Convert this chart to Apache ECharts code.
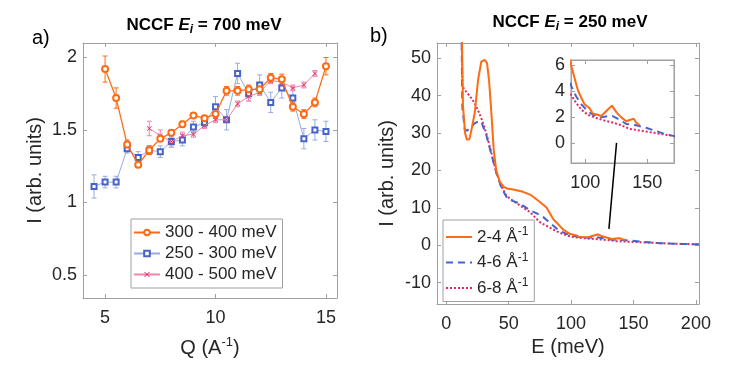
<!DOCTYPE html>
<html>
<head>
<meta charset="utf-8">
<script src="https://cdn.jsdelivr.net/npm/echarts@6.0.0/dist/echarts.min.js"></script>
<style>
html,body{margin:0;padding:0;background:#fff;}
#main{width:739px;height:374px;}
</style>
</head>
<body>
<div id="main"></div>
<script>
// panel a) : Q cuts
var qOrange = [5,5.5,6,6.5,7,7.5,8,8.5,9,9.5,10,10.5,11,11.5,12,12.5,13,13.5,14,14.5,15];
var iOrange = [1.92,1.72,1.40,1.26,1.36,1.44,1.48,1.54,1.60,1.58,1.61,1.77,1.77,1.78,1.78,1.86,1.85,1.66,1.61,1.69,1.94];
var eOrange = [0.09,0.07,0.03,0.02,0.03,0.02,0.02,0.02,0.02,0.02,0.03,0.03,0.03,0.03,0.03,0.03,0.035,0.03,0.03,0.03,0.06];

var qBlue = [4.5,5,5.5,6,6.5,7,7.5,8,8.5,9,9.5,10,10.5,11,11.5,12,12.5,13,13.5,14,14.5,15];
var iBlue = [1.11,1.14,1.14,1.37,1.31,1.36,1.35,1.42,1.43,1.52,1.55,1.66,1.57,1.89,1.75,1.81,1.69,1.79,1.72,1.44,1.50,1.49];
var eBlue = [0.08,0.04,0.04,0.03,0.04,0.03,0.04,0.04,0.04,0.04,0.03,0.07,0.07,0.07,0.05,0.07,0.07,0.07,0.07,0.07,0.07,0.07];

var qRed = [7,7.5,8,8.5,9,9.5,10,10.5,11,11.5,12,12.5,13,13.5,14,14.5];
var iRed = [1.51,1.46,1.42,1.46,1.47,1.53,1.57,1.57,1.68,1.73,1.76,1.84,1.83,1.79,1.81,1.89];
var eRed = [0.05,0.04,0.03,0.025,0.02,0.02,0.02,0.02,0.02,0.03,0.02,0.02,0.02,0.02,0.02,0.02];

var namesA = ['300 - 400 meV','250 - 300 meV','400 - 500 meV'];

// panel b) : energy cuts
var E24 = [11.8,13.3,15,16.5,18.5,20.5,22.7,25.4,28,30.7,32.6,34.2,36.1,38,40,42.8,46,48.5,53.5,61.5,68,75,80.3,85.6,88.7,91.4,94,96.8,99.4,103.5,106,110,112.9,115.6,118.2,121.5,125,129,133,135.7,139,141,143.8];
var I24 = [70,37.5,30,28.2,28.4,31.5,35.3,44.2,49.1,49.6,48.7,44.2,35.3,25.4,20,17,15.6,15.2,14.9,14.3,13.4,11.6,10.1,7.0,5.95,5.0,4.1,3.5,3.0,2.7,2.3,2.2,2.1,2.35,2.6,2.9,2.4,2.0,1.7,1.8,1.9,1.6,1.4];

var E46 = [11.8,12.8,14.7,16.5,18.7,22.7,26,28,32,36,40,44,48.2,52,58.8,66.9,72,77.5,83,88.7,92.7,96.8,100.8,106,113,118,122,126,133,141,149,157,165,172,180,190,202.5];
var I46 = [70,37,31,30.6,31.3,32.6,33.2,33,29.5,24.5,19.5,15.5,12.9,12.0,11.2,9.4,8.6,7.6,6.0,4.4,3.6,3.0,2.6,2.2,2.0,2.1,2.1,1.9,1.5,1.4,1.2,0.95,0.7,0.56,0.45,0.35,0.25];

var E68 = [11.8,12.8,16,19,22.7,25.5,28,32,36,40,44,48,50.8,58.8,66.9,74.9,82.9,88.7,92.7,96.8,102,108.9,115.6,122,129,136,144,151.8,160,172,180,190,202.5];
var I68 = [70,42.5,41,39.8,38,36,34,30,24.8,19.5,15.8,13.3,12.5,10.7,8.9,6.2,4.7,3.7,3.1,2.6,2.2,1.95,1.75,1.6,1.4,1.1,1.0,0.87,0.74,0.56,0.45,0.35,0.25];

var namesB = ['2-4','4-6','6-8'];
var arrowPts = [[130.3,4.4],[136.4,27.4]];

var cOrange = '#ff6a13', cBlue = '#4763c9', cBlueLine = '#9aaae0', cRed = '#e6245f', cRedLine = '#ef86a8';
var cAxis = '#a0a0a0', cText = '#262626';
var FONT = 'Liberation Sans';

function pairs(x, y){
    var out = [];
    for (var i = 0; i < x.length; i++) out.push([x[i], y[i]]);
    return out;
}
function bars(x, y, e){
    var out = [];
    for (var i = 0; i < x.length; i++) out.push([x[i], y[i]-e[i], y[i]+e[i]]);
    return out;
}

function errSeries(data, color){
    return {
        type: 'custom',
        xAxisIndex: 0, yAxisIndex: 0,
        data: data,
        encode: {x: 0, y: [1, 2]},
        silent: true,
        z: 1,
        renderItem: function(params, api){
            var x = api.value(0);
            var p1 = api.coord([x, api.value(2)]);
            var p2 = api.coord([x, api.value(1)]);
            var w = 2.5;
            var st = {stroke: color, lineWidth: 1};
            return {type: 'group', children: [
                {type: 'line', shape: {x1: p1[0], y1: p1[1], x2: p2[0], y2: p2[1]}, style: st},
                {type: 'line', shape: {x1: p1[0]-w, y1: p1[1], x2: p1[0]+w, y2: p1[1]}, style: st},
                {type: 'line', shape: {x1: p2[0]-w, y1: p2[1], x2: p2[0]+w, y2: p2[1]}, style: st}
            ]};
        }
    };
}

function xAx(grid, min, max, ticks, top, nameCfg){
    var a = {
        type: 'value', gridIndex: grid, min: min, max: max,
        position: top ? 'top' : 'bottom',
        splitLine: {show: false},
        axisLine: {show: true, onZero: false, lineStyle: {color: cAxis, width: 1}},
        axisTick: {show: true, inside: true, length: 4, customValues: ticks, lineStyle: {color: cAxis}},
        axisLabel: {show: !top, customValues: ticks, margin: 11, fontSize: 18, color: cText, fontFamily: FONT}
    };
    if (nameCfg) {
        a.name = nameCfg.name; a.nameLocation = 'middle'; a.nameGap = nameCfg.gap;
        a.nameTextStyle = {fontSize: 20, color: cText, fontFamily: FONT, rich: nameCfg.rich};
    }
    return a;
}
function yAx(grid, min, max, ticks, right, nameCfg){
    var a = {
        type: 'value', gridIndex: grid, min: min, max: max,
        position: right ? 'right' : 'left',
        splitLine: {show: false},
        axisLine: {show: true, onZero: false, lineStyle: {color: cAxis, width: 1}},
        axisTick: {show: true, inside: true, length: 4, customValues: ticks, lineStyle: {color: cAxis}},
        axisLabel: {show: !right, customValues: ticks, margin: 6, fontSize: 18, color: cText, fontFamily: FONT}
    };
    if (nameCfg) {
        a.name = nameCfg.name; a.nameLocation = 'middle'; a.nameGap = nameCfg.gap;
        a.nameTextStyle = {fontSize: 20, color: cText, fontFamily: FONT};
    }
    return a;
}

var supRich = {
    n: {fontSize: 20, color: cText, fontFamily: FONT, lineHeight: 24},
    s: {fontSize: 13, color: cText, fontFamily: FONT, lineHeight: 13, verticalAlign: 'top'}
};

var crossPath = 'path://M0,1L1,0L5,4L9,0L10,1L6,5L10,9L9,10L5,6L1,10L0,9L4,5Z';

var titleRich = {
    b: {fontSize: 17, fontWeight: 'bold', fill: '#000', fontFamily: FONT, lineHeight: 22},
    e: {fontSize: 17, fontWeight: 'bold', fontStyle: 'italic', fill: '#000', fontFamily: FONT, lineHeight: 22},
    i: {fontSize: 12, fontWeight: 'bold', fontStyle: 'italic', fill: '#000', fontFamily: FONT, lineHeight: 14, verticalAlign: 'bottom'}
};

var myChart = echarts.init(document.getElementById('main'), null, {renderer: 'canvas'});
var option = {
    animation: false,
    backgroundColor: '#fff',
    textStyle: {fontFamily: FONT},
    grid: [
        {left: 83, top: 43, width: 254, height: 255},
        {left: 437, top: 43, width: 262, height: 261},
        {left: 571, top: 60, width: 103, height: 103, show: true, borderColor: cAxis, borderWidth: 1, backgroundColor: 'transparent'}
    ],
    xAxis: [
        xAx(0, 4, 15.5, [5,10,15], false, {name: '{n|Q (A}{s|-1}{n|)}', gap: 38, rich: supRich}),
        xAx(0, 4, 15.5, [5,10,15], true),
        xAx(1, -7.5, 202.5, [0,50,100,150,200], false, {name: 'E (meV)', gap: 33}),
        xAx(1, -7.5, 202.5, [0,50,100,150,200], true),
        xAx(2, 88.5, 171.5, [100,150], false),
        xAx(2, 88.5, 171.5, [100,150], true)
    ],
    yAxis: [
        yAx(0, 0.34, 2.1, [0.5,1,1.5,2], false, {name: 'I (arb. units)', gap: 38}),
        yAx(0, 0.34, 2.1, [0.5,1,1.5,2], true),
        yAx(1, -15.7, 54.1, [-10,0,10,20,30,40,50], false, {name: 'I (arb. units)', gap: 40}),
        yAx(1, -15.7, 54.1, [-10,0,10,20,30,40,50], true),
        yAx(2, -1.5, 6.4, [0,2,4,6], false),
        yAx(2, -1.5, 6.4, [0,2,4,6], true)
    ],
    legend: [
        {
            data: namesA, orient: 'vertical', left: 131, top: 219,
            padding: [5, 6, 5, 2], itemGap: 4, itemWidth: 26, itemHeight: 7,
            borderColor: '#a0a0a0', borderWidth: 1, backgroundColor: '#fff',
            textStyle: {fontSize: 17, color: cText, fontFamily: FONT}
        },
        {
            data: namesB, orient: 'vertical', left: 443, top: 220,
            padding: [6, 6, 5, 2], itemGap: 6, itemWidth: 26, itemHeight: 10,
            borderColor: '#a0a0a0', borderWidth: 1, backgroundColor: '#fff',
            itemStyle: {opacity: 0},
            formatter: function(name){ return '{n|' + name + ' Å}{s|-1}'; },
            textStyle: {
                color: cText, fontFamily: FONT,
                rich: {
                    n: {fontSize: 17, color: cText, fontFamily: FONT, lineHeight: 22},
                    s: {fontSize: 12, color: cText, fontFamily: FONT, lineHeight: 12, verticalAlign: 'top'}
                }
            }
        }
    ],
    graphic: [
        {type: 'text', x: 204, y: 25, style: {
            text: '{b|NCCF }{e|E}{i|i}{b| = 700 meV}', align: 'center', verticalAlign: 'middle',
            textAlign: 'center', textVerticalAlign: 'middle', rich: titleRich
        }},
        {type: 'text', x: 570, y: 22, style: {
            text: '{b|NCCF }{e|E}{i|i}{b| = 250 meV}', align: 'center', verticalAlign: 'middle',
            textAlign: 'center', textVerticalAlign: 'middle', rich: titleRich
        }},
        {type: 'text', x: 32, y: 38, style: {text: 'a)', font: '20px "Liberation Sans"', fill: '#000', verticalAlign: 'middle', textVerticalAlign: 'middle'}},
        {type: 'text', x: 370, y: 36, style: {text: 'b)', font: '20px "Liberation Sans"', fill: '#000', verticalAlign: 'middle', textVerticalAlign: 'middle'}}
    ],
    series: [
        errSeries(bars(qBlue, iBlue, eBlue), cBlueLine),
        errSeries(bars(qRed, iRed, eRed), cRedLine),
        errSeries(bars(qOrange, iOrange, eOrange), cOrange),
        {
            name: namesA[1], type: 'line', xAxisIndex: 0, yAxisIndex: 0,
            data: pairs(qBlue, iBlue), symbol: 'emptyRect', symbolSize: 5, z: 2,
            lineStyle: {color: cBlueLine, width: 1},
            itemStyle: {color: cBlue, borderColor: cBlue, borderWidth: 1}
        },
        {
            name: namesA[2], type: 'line', xAxisIndex: 0, yAxisIndex: 0,
            data: pairs(qRed, iRed), symbol: crossPath, symbolSize: 5, z: 3,
            lineStyle: {color: cRedLine, width: 1},
            itemStyle: {color: cRed}
        },
        {
            name: namesA[0], type: 'line', xAxisIndex: 0, yAxisIndex: 0,
            data: pairs(qOrange, iOrange), symbol: 'emptyCircle', symbolSize: 6, z: 4,
            lineStyle: {color: cOrange, width: 1.3},
            itemStyle: {color: cOrange, borderColor: cOrange, borderWidth: 1}
        },
        // panel b main
        {
            name: namesB[2], type: 'line', xAxisIndex: 2, yAxisIndex: 2, data: pairs(E68, I68),
            symbol: 'none', clip: true, z: 2,
            lineStyle: {color: cRed, width: 2, type: [2, 2]}, itemStyle: {color: cRed}
        },
        {
            name: namesB[1], type: 'line', xAxisIndex: 2, yAxisIndex: 2, data: pairs(E46, I46),
            symbol: 'none', clip: true, z: 3,
            lineStyle: {color: cBlue, width: 2, type: [7, 5]}, itemStyle: {color: cBlue}
        },
        {
            name: namesB[0], type: 'line', xAxisIndex: 2, yAxisIndex: 2, data: pairs(E24, I24),
            symbol: 'none', clip: true, z: 4,
            lineStyle: {color: cOrange, width: 2}, itemStyle: {color: cOrange},
            markLine: {
                silent: true, symbol: ['none', 'arrow'], symbolSize: [0, 9],
                lineStyle: {color: '#000', width: 1.5, type: 'solid'},
                label: {show: false},
                data: [[{coord: arrowPts[0]}, {coord: arrowPts[1]}]]
            }
        },
        // inset
        {
            type: 'line', xAxisIndex: 4, yAxisIndex: 4, data: pairs(E68, I68),
            symbol: 'none', clip: true, z: 6,
            lineStyle: {color: cRed, width: 2, type: [2, 2]}
        },
        {
            type: 'line', xAxisIndex: 4, yAxisIndex: 4, data: pairs(E46, I46),
            symbol: 'none', clip: true, z: 6,
            lineStyle: {color: cBlue, width: 2, type: [7, 5]}
        },
        {
            type: 'line', xAxisIndex: 4, yAxisIndex: 4, data: pairs(E24, I24),
            symbol: 'none', clip: true, z: 6,
            lineStyle: {color: cOrange, width: 2}
        }
    ]
};
myChart.setOption(option);
</script>
</body>
</html>
